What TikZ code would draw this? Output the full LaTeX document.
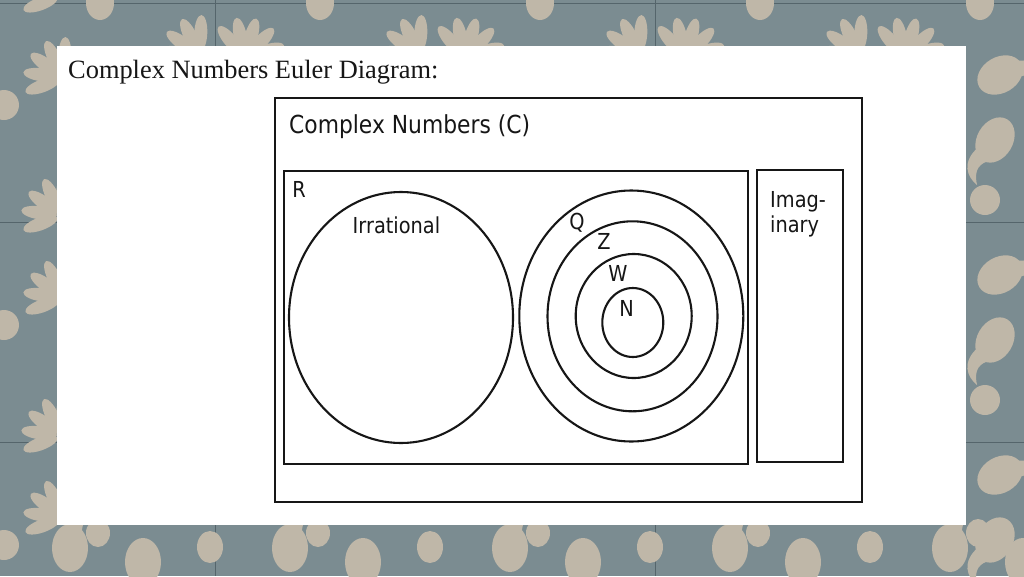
\documentclass[tikz,border=0pt]{standalone}
\usepackage{fontspec}
\setmainfont{Liberation Serif}
\newfontfamily\eulerfont{DejaVu Sans}[FakeStretch=0.88]
\usetikzlibrary{shapes.geometric}
\definecolor{tilebg}{HTML}{7B8C91}
\definecolor{tileleaf}{HTML}{BFB7A8}
\definecolor{tileline}{HTML}{55656B}
\definecolor{ink}{HTML}{161616}
\tikzstyle{set box}=[draw=ink,line width=2.6pt,inner sep=0pt,outer sep=0pt]
\tikzstyle{set oval}=[ellipse,draw=ink,line width=2.1pt,inner sep=0pt]
\tikzstyle{set label}=[inner sep=0pt,text=ink,font={\eulerfont\fontsize{22}{25}\selectfont}]
\tikzstyle{leaf}=[fill=tileleaf]
\tikzset{leaf spray/.pic={\foreach \a in {0,28,56,84,112}
    \fill[leaf,rotate=\a] (23,0) ellipse [x radius=18, y radius=6.5];},
  paisley/.pic={\fill[leaf] (0,0) ellipse [x radius=18, y radius=24];
    \fill[leaf] (11,-15) .. controls (18,-36) and (6,-46) .. (-7,-48)
      .. controls (4,-36) and (2,-28) .. (-7,-19) -- cycle;}}

\begin{document}
\begin{tikzpicture}[x=1pt,y=-1pt]
% backdrop
\useasboundingbox (0,0) rectangle (1024,576);
\clip (0,0) rectangle (1024,576);
\fill[tilebg] (0,0) rectangle (1024,576);
\foreach \x in {215,655} \draw[tileline] (\x,0) -- (\x,576);
\foreach \y in {3,222,442} \draw[tileline] (0,\y) -- (1024,\y);
\foreach \x in {-5,215,435,655,875}{
  \fill[leaf] (\x+105,3) ellipse [x radius=14, y radius=17];
  \pic[rotate=88] at (\x+205,56) {leaf spray};
  \pic[rotate=18] at (\x+250,58) {leaf spray};
  \pic at (\x+75,548) {paisley};
  \pic[rotate=180] at (\x+148,562) {paisley};
  \fill[leaf] (\x+103,533) ellipse [x radius=12, y radius=14];
  \fill[leaf] (\x+215,547) ellipse [x radius=13, y radius=16];
}
\foreach \y in {2,222,442}{
  \pic[rotate=88] at (62,\y-6) {leaf spray};
  \pic[rotate=88] at (64,\y+76) {leaf spray};
  \fill[leaf] (4,\y+103) circle [radius=15];
}
\foreach \y in {0,200,400}{
  \pic[rotate=-60] at (1000,\y+75) {paisley};
  \pic[rotate=150] at (995,\y+140) {paisley};
  \fill[leaf] (985,\y+200) circle [radius=15];
}

% sheet and heading
\node[fill=white,inner sep=0pt,minimum width=909pt,minimum height=479pt] (sheet) at (511.5,285.5) {};
\node[anchor=base west,inner sep=0pt,text=ink,font={\fontsize{26.4}{30}\selectfont}] (heading) at (68,78) {Complex Numbers Euler Diagram:};

% sets
\node[set box,minimum width=587pt,minimum height=404pt] (C) at (568.5,300) {};
\node[set box,minimum width=464pt,minimum height=293pt] (R) at (516,317.5) {};
\node[set box,minimum width=86pt,minimum height=292pt] (imag) at (800,316) {};
\node[set oval,minimum width=224pt,minimum height=251pt] (irr) at (401,317.5) {};
\node[set oval,minimum width=224pt,minimum height=251pt] (Q) at (631.3,316) {};
\node[set oval,minimum width=170pt,minimum height=190pt] (Z) at (632.5,316.3) {};
\node[set oval,minimum width=116pt,minimum height=124pt] (W) at (633.7,316) {};
\node[set oval,minimum width=61pt,minimum height=69pt] (N) at (632.8,322.5) {};

% labels
\node[set label,anchor=base west,font={\eulerfont\fontsize{24.8}{28}\selectfont}] (C label) at (289,133) {Complex Numbers (C)};
\node[set label] (R label) at (299,189.5) {R};
\node[set label,anchor=base west] (irr label) at (352.5,233) {Irrational};
\node[set label] (Q label) at (577,223) {Q};
\node[set label] (Z label) at (604,241.5) {Z};
\node[set label] (W label) at (618,273.5) {W};
\node[set label] (N label) at (626.5,308.5) {N};
\node[set label,align=left,anchor=north west] (imag label) at (770,191) {Imag-\\inary};
\end{tikzpicture}
\end{document}
